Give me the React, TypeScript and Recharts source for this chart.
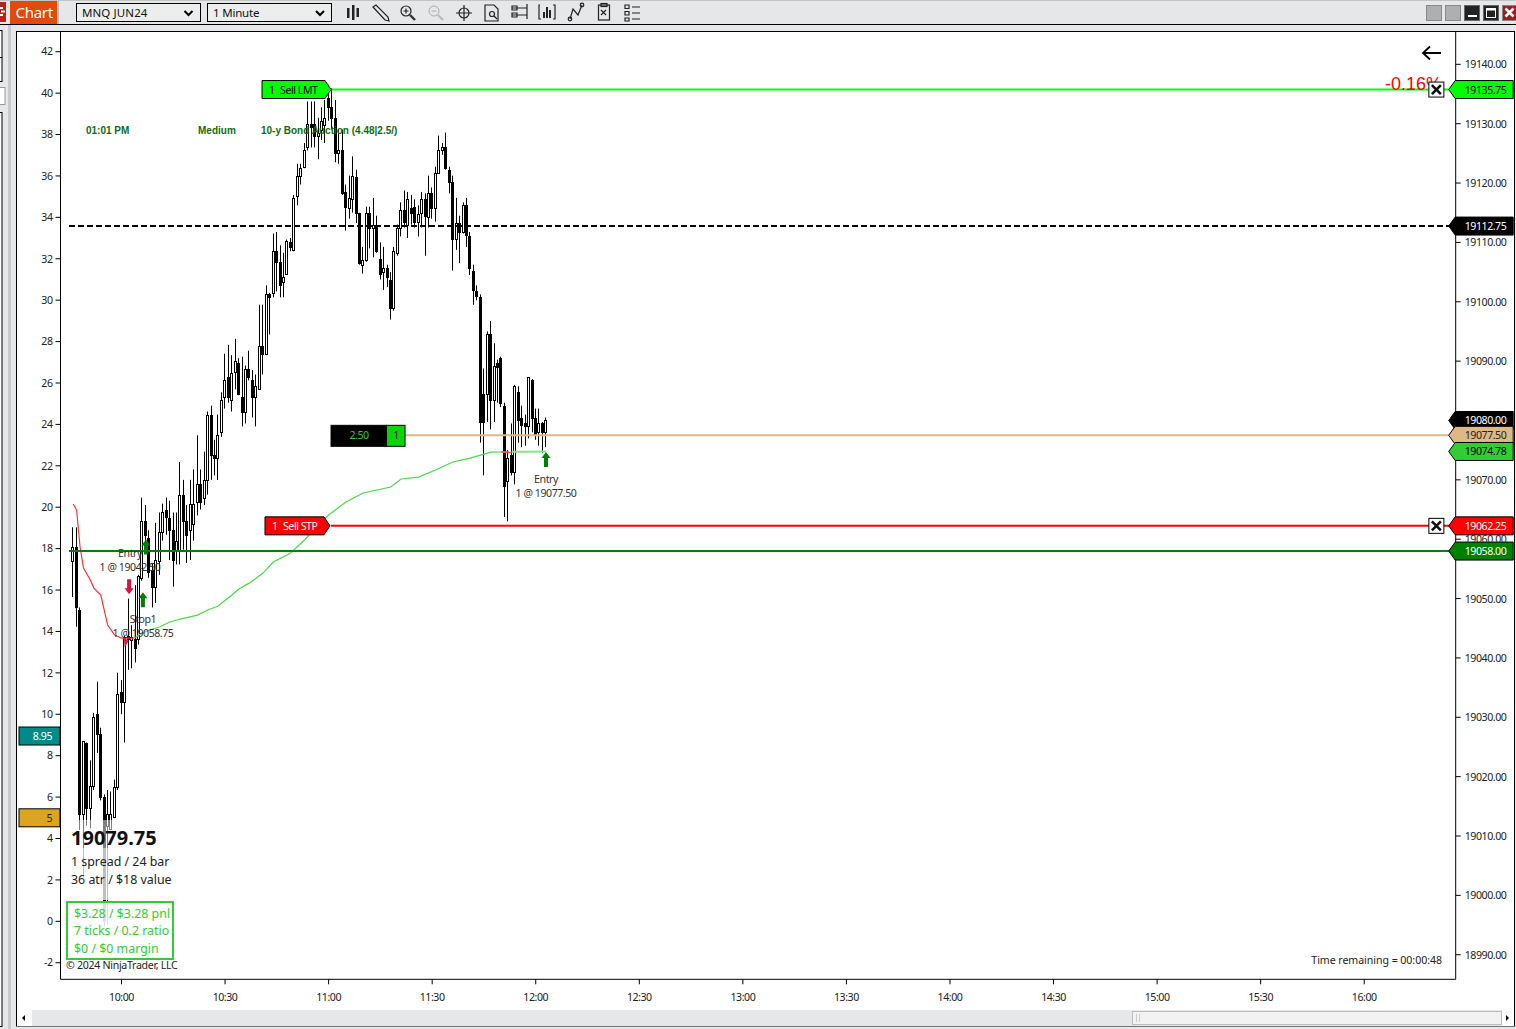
import React from "react";
import { ComposedChart, Bar, Line, XAxis, YAxis, ReferenceLine, ReferenceDot } from "recharts";

// ---- session layout (minutes after midnight) ----
const firstBarMinute = 586;
const timeDomain = [582.33, 986.5];
const timeTicks = [600, 630, 660, 690, 720, 750, 780, 810, 840, 870, 900, 930, 960];
const timeLabels = ["10:00", "10:30", "11:00", "11:30", "12:00", "12:30", "13:00", "13:30", "14:00", "14:30", "15:00", "15:30", "16:00"];

const priceDomain = [18985.86, 19145.53];
const priceTicks = [18990, 19000, 19010, 19020, 19030, 19040, 19050, 19060, 19070, 19080, 19090, 19100, 19110, 19120, 19130, 19140];
const indicatorDomain = [-2.8, 42.976];
const indicatorTicks = [-2, 0, 2, 4, 6, 8, 10, 12, 14, 16, 18, 20, 22, 24, 26, 28, 30, 32, 34, 36, 38, 40, 42];

// ---- 1 minute candles ----
const opens = [
  19056.25, 19058.75, 19048, 19013.75, 19025.75, 19014.75, 19018.5, 19030.5, 19027.25, 19016.5,
  19011.75, 19011.25, 19013.25, 19018.25, 19034.25, 19032.5, 19043.75, 19043, 19043.25, 19043.25,
  19053.5, 19063, 19060.25, 19054.75, 19052, 19056.25, 19061.25, 19065, 19063.5, 19061.5,
  19058.25, 19058.25, 19067.5, 19063, 19061.5, 19062.5, 19066.25, 19069.25, 19067, 19070,
  19081, 19074.25, 19073.75, 19078, 19084, 19087.25, 19083.5, 19088.25, 19089.75, 19084,
  19081.5, 19088.75, 19086.75, 19084, 19085.25, 19092.5, 19091.25, 19101.25, 19101.5, 19108.5,
  19106.75, 19103.25, 19104.75, 19110, 19108.75, 19117.75, 19121.25, 19122.75, 19126, 19130,
  19130, 19128, 19129, 19129.75, 19134.25, 19132.75, 19131, 19125, 19125.5, 19118.5,
  19115.75, 19117.25, 19121, 19115, 19106.25, 19107, 19115, 19112.5, 19113, 19107.25,
  19105, 19105.75, 19103.75, 19099, 19108.25, 19112.5, 19115.5, 19113, 19115.75, 19116,
  19113.5, 19115, 19117.25, 19114.25, 19118.25, 19115.75, 19121.75, 19125.5, 19126, 19122.25,
  19120.25, 19110.5, 19113.25, 19111.75, 19116.25, 19111, 19105.25, 19101.75, 19100.75, 19084.5,
  19084.5, 19094.5, 19083.5, 19089.75, 19090.5, 19082.5, 19069.75, 19074.25, 19071.25, 19084.75,
  19080.5, 19079.5, 19079, 19086.75, 19080.5, 19078, 19079.5, 19078,
];
const highs = [
  19062, 19062, 19048.5, 19026, 19025.75, 19022.75, 19030.75, 19036, 19028.25, 19017,
  19017.75, 19017.5, 19019.5, 19037.5, 19036.25, 19043.75, 19050, 19045.5, 19052.25, 19054,
  19067, 19065.75, 19061.5, 19056, 19062.75, 19064.5, 19066, 19067, 19066.5, 19064.5,
  19064.5, 19073, 19070, 19065.75, 19070, 19071.75, 19077.5, 19071.75, 19074.75, 19081.5,
  19082.5, 19076.75, 19081, 19084.75, 19091.25, 19092.75, 19091, 19093.75, 19090.5, 19090.75,
  19089.25, 19091.75, 19088.5, 19087.75, 19099.5, 19099.5, 19102.75, 19101.5, 19111.5, 19111.75,
  19109.5, 19108.25, 19110.5, 19110.75, 19118, 19123.25, 19123.25, 19126.75, 19133.75, 19133.75,
  19133.75, 19131, 19132.75, 19134, 19136.5, 19136, 19134, 19129, 19129, 19119.75,
  19121.25, 19124.5, 19122.25, 19115, 19109.25, 19116, 19116, 19117.5, 19114.5, 19110,
  19109.25, 19106.25, 19105, 19109.25, 19113, 19116.75, 19118.75, 19118.5, 19118, 19117.25,
  19116.25, 19118.5, 19118.25, 19121.25, 19119.25, 19122.75, 19128, 19126.75, 19128.5, 19122.75,
  19121.25, 19117.5, 19114.5, 19116.75, 19117.5, 19111.75, 19106.25, 19102.75, 19101.25, 19088.75,
  19095, 19096.75, 19093, 19090.25, 19090.75, 19083, 19075, 19079.5, 19086, 19085.75,
  19082.5, 19081, 19087.25, 19087, 19082, 19082, 19079.75, 19080.5,
];
const lows = [
  19050.25, 19045.25, 19011, 19003, 19011.75, 19011.25, 19017.75, 19024, 19016, 18994.75,
  18995, 19011, 19013, 19017.75, 19030.5, 19025.75, 19038, 19038.25, 19039.25, 19042.25,
  19053, 19059, 19053.5, 19048.5, 19049.25, 19054, 19059.75, 19060.75, 19056.5, 19052,
  19055.75, 19055.75, 19058.25, 19056, 19056.5, 19059.75, 19064, 19065, 19065.75, 19067.5,
  19070, 19070.75, 19070, 19077.25, 19082, 19083, 19081.5, 19085.25, 19084.25, 19079,
  19079.5, 19086.75, 19080.5, 19079, 19085.25, 19087.75, 19091, 19094.5, 19100.75, 19101.75,
  19100.75, 19100.75, 19104.5, 19108.5, 19108.5, 19116.25, 19119.75, 19122.5, 19125.5, 19126,
  19126, 19124, 19127.25, 19126.75, 19130.5, 19129, 19123.5, 19123.25, 19118, 19112,
  19114, 19115, 19113.25, 19106.25, 19104.75, 19106.75, 19109, 19107.5, 19108.25, 19103.75,
  19102, 19102.5, 19097, 19098.5, 19107.75, 19111, 19112.5, 19110.75, 19113, 19112.5,
  19111, 19112.5, 19107.75, 19112.5, 19114, 19113.5, 19121.75, 19124.75, 19122.25, 19118.25,
  19105.25, 19108.75, 19106.5, 19111.5, 19109.25, 19104.5, 19099.5, 19100.25, 19076.25, 19070.75,
  19079.75, 19078.5, 19079.75, 19083, 19082.25, 19063.75, 19063, 19070.75, 19069.25, 19076.25,
  19075.5, 19075.75, 19077, 19078, 19076.75, 19075.75, 19074.5, 19075.5,
];
const closes = [
  19058.75, 19048.5, 19013.75, 19026, 19014.75, 19018.5, 19030, 19027.25, 19016.5, 18995.75,
  19013.75, 19013.75, 19018.25, 19034, 19032.5, 19043.5, 19043.25, 19043.5, 19041.75, 19053.75,
  19063, 19060.75, 19054.5, 19052, 19056.5, 19061.25, 19064.5, 19063.75, 19061.5, 19056.5,
  19059.75, 19067.5, 19063, 19060.75, 19066, 19066, 19069.25, 19066.25, 19070, 19081,
  19074.25, 19073.75, 19077.5, 19083.5, 19086.75, 19084, 19088, 19090, 19084.5, 19081.5,
  19088.75, 19087.25, 19084, 19085.75, 19092.5, 19091.25, 19101.25, 19100.75, 19108.5, 19106.75,
  19102.75, 19104.25, 19110.25, 19109.25, 19117.5, 19121.25, 19122.5, 19125.5, 19130, 19129.5,
  19128, 19128.5, 19130.5, 19131, 19132.75, 19131, 19125, 19125.5, 19118.25, 19116,
  19117.5, 19121.25, 19115, 19106.5, 19107, 19115, 19112.5, 19113, 19108.5, 19104.75,
  19105.75, 19104.25, 19099, 19108.5, 19112.5, 19115.5, 19113.5, 19117.25, 19115, 19113.5,
  19114.75, 19117.25, 19114.5, 19118.25, 19115.75, 19121.75, 19125.5, 19126, 19122.5, 19120.25,
  19110.5, 19113.25, 19111.75, 19116.25, 19111.25, 19105.75, 19102, 19101, 19079.75, 19079.75,
  19094.5, 19083.5, 19089.25, 19089, 19083, 19069, 19073.75, 19071.25, 19085.75, 19080,
  19079.25, 19079, 19087.25, 19080.5, 19077.5, 19079.5, 19078, 19080,
];

// ---- VWAP-style line, read at these bar numbers ----
const redLineBars = [0, 1, 2, 3, 5, 6, 8, 9, 10, 12, 14, 17, 18, 124, 127];
const redLineValues = [19065.93, 19064.91, 19058.68, 19055.14, 19053.1, 19051.77, 19050.6, 19048.07, 19045.54, 19043.86, 19043.35, 19043.35, 19043.4, 19074.69, 19074.65];
const redLineBreakAfter = 18;
const greenLineBars = [18, 19, 22, 25, 28, 31, 36, 39, 42, 43, 46, 48, 51, 55, 58, 63, 67, 71, 74, 79, 84, 92, 95, 100, 105, 110, 115, 121, 124];
const greenLineValues = [19043.4, 19043.86, 19044.7, 19045.2, 19046.05, 19046.55, 19047.22, 19048.07, 19048.74, 19049.25, 19050.6, 19051.6, 19052.6, 19054.3, 19056.15, 19057.67, 19059.86, 19062.39, 19064.07, 19066.26, 19067.78, 19068.79, 19070.14, 19070.47, 19071.65, 19073, 19073.67, 19074.68, 19074.69];
const greenTailBars = [127, 130, 137];
const greenTailValues = [19074.72, 19074.75, 19074.78];

// ---- price levels ----
const sellLimitPrice = 19135.75;
const sellStopPrice = 19062.25;
const positionPrice = 19077.5;
const targetPrice = 19058;
const dashedPrice = 19112.75;
const flagPrices = [19135.75, 19112.75, 19080, 19077.5, 19074.78, 19062.25, 19058];
const flagFills = ["#00ff00", "#000000", "#000000", "#deb887", "#32cd32", "#ff0000", "#008000"];
const flagInks = ["#000000", "#ffffff", "#ffffff", "#222222", "#000000", "#ffffff", "#ffffff"];
const indicatorFlagValues = [8.95, 5];
const indicatorFlagLabels = ["8.95", "5"];
const indicatorFlagFills = ["#008b8b", "#daa520"];
const indicatorFlagInks = ["#ffffff", "#222222"];

// ---- executions ----
const arrowTimes = [602.2, 606.2, 607.1, 722.97];
const arrowPrices = [19052, 19049.8, 19058.68, 19073.42];
const arrowDirections = ["down", "up", "up", "up"];

const rows = opens.map((open, i) => {
  const redIdx = redLineBars.indexOf(i);
  const greenIdx = greenLineBars.indexOf(i);
  const tailIdx = greenTailBars.indexOf(i);
  return {
    t: firstBarMinute + i,
    open,
    high: highs[i],
    low: lows[i],
    close: closes[i],
    redA: redIdx >= 0 && i <= redLineBreakAfter ? redLineValues[redIdx] : null,
    redB: redIdx >= 0 && i > redLineBreakAfter ? redLineValues[redIdx] : null,
    green: greenIdx >= 0 ? greenLineValues[greenIdx] : null,
    greenTail: tailIdx >= 0 ? greenTailValues[tailIdx] : null,
  };
});

const UI = "'Noto Sans', sans-serif";
const LABEL = { fontFamily: UI, fontSize: 10.6, letterSpacing: -0.45 };

const Candle = (props: any) => {
  const { x, y, width, height, payload } = props;
  const top = height >= 0 ? y : y + height;
  const h = Math.abs(height);
  const k = h / (payload.high - payload.low);
  const cx = Math.round(x + width / 2 - 0.5) + 0.5;
  const up = payload.close >= payload.open;
  const bTop = Math.round(top + (payload.high - Math.max(payload.open, payload.close)) * k) + 0.5;
  const bBot = Math.round(top + (payload.high - Math.min(payload.open, payload.close)) * k) + 0.5;
  return (
    <g>
      <line x1={cx} x2={cx} y1={top} y2={top + h} stroke="#000" strokeWidth={1} />
      <rect x={cx - 1} y={bTop} width={2} height={Math.max(bBot - bTop, 1)} fill={up ? "#fff" : "#000"} stroke="#000" strokeWidth={1} />
    </g>
  );
};

const makePriceFlag = (fill: string, ink: string, label: string) => (p: any) => {
  const { cx, cy } = p;
  return (
    <g>
      <polygon points={`${cx - 7},${cy} ${cx - 0.5},${cy - 9} ${cx + 57.5},${cy - 9} ${cx + 57.5},${cy + 9} ${cx - 0.5},${cy + 9}`} fill={fill} stroke="#000" strokeWidth={1} />
      <text x={cx + 9} y={cy + 4} {...LABEL} fill={ink}>{label}</text>
    </g>
  );
};

const makeIndicatorFlag = (fill: string, ink: string, label: string) => (p: any) => {
  const { cx, cy } = p;
  return (
    <g>
      <rect x={cx - 41.5} y={cy - 9} width={41} height={18} fill={fill} stroke="#000" strokeWidth={1} />
      <text x={cx - 8.5} y={cy + 4} textAnchor="end" {...LABEL} fill={ink}>{label}</text>
    </g>
  );
};

const makeOrderTag = (fill: string, ink: string, qty: string, name: string, w: number, nameAt: number) => (p: any) => {
  const { cx, cy } = p;
  return (
    <g>
      <polygon points={`${cx - w},${cy - 9} ${cx - 6},${cy - 9} ${cx},${cy} ${cx - 6},${cy + 9} ${cx - w},${cy + 9}`} fill={fill} stroke="#000" strokeWidth={1} />
      <text x={cx - w + 7} y={cy + 4} {...LABEL} fill={ink}>{qty}</text>
      <text x={cx - w + nameAt} y={cy + 4} {...LABEL} fill={ink}>{name}</text>
    </g>
  );
};

const PositionBox = (p: any) => {
  const { cx, cy } = p;
  return (
    <g>
      <rect x={cx} y={cy - 10} width={55.5} height={21} fill="#000" stroke="#000" />
      <rect x={cx + 55.5} y={cy - 10} width={18.5} height={21} fill="#0ad40a" stroke="#000" />
      <text x={cx + 28} y={cy + 4} textAnchor="middle" {...LABEL} fill="#32cd32">2.50</text>
      <text x={cx + 65} y={cy + 4} textAnchor="middle" {...LABEL} fill="#111">1</text>
    </g>
  );
};

const CloseBox = (p: any) => {
  const { cx, cy } = p;
  return (
    <g>
      <rect x={cx - 7.5} y={cy - 7.5} width={15} height={15} fill="#fff" stroke="#000" strokeWidth={1} />
      <path d={`M${cx - 4.5},${cy - 4.5} L${cx + 4.5},${cy + 4.5} M${cx + 4.5},${cy - 4.5} L${cx - 4.5},${cy + 4.5}`} stroke="#111" strokeWidth={2.6} />
    </g>
  );
};

const PctText = (p: any) => (
  <text x={p.cx} y={p.cy + 0.5} fontFamily="'Liberation Sans', sans-serif" fontSize={18} fill="#ff0000">-0.16%</text>
);

const makeArrow = (dir: string) => (p: any) => {
  const { cx, cy } = p;
  const color = dir === "up" ? "#008000" : "#dc143c";
  const s = dir === "up" ? 1 : -1;
  const a = cy - 7.5 * s;
  const b = cy - 1.5 * s;
  const c = cy + 7.5 * s;
  return <polygon points={`${cx},${a} ${cx + 4.5},${b} ${cx + 2},${b} ${cx + 2},${c} ${cx - 2},${c} ${cx - 2},${b} ${cx - 4.5},${b}`} fill={color} />;
};

const RedMark = (p: any) => <polygon points={`${p.cx - 2},${p.cy - 5} ${p.cx + 3},${p.cy - 1} ${p.cx - 1},${p.cy + 5}`} fill="#dc143c" />;

const axisTick = { ...LABEL, fill: "#222" };

// Right-hand labels sit under the flags: the one at 19080 is covered and the one at 19060 is cut by the flag below it.
const PriceTick = (p: any) => {
  const v = p.payload.value;
  if (v === 19080) return <g />;
  return (
    <svg x={p.x} y={p.y - 8} width={50} height={v === 19060 ? 10.5 : 18}>
      <text x={0} y={12} {...axisTick}>{v.toFixed(2)}</text>
    </svg>
  );
};

const Toolbar = () => {
  const ic = { fill: "none", stroke: "#222", strokeWidth: 1.2 };
  return (
    <svg width={1516} height={26} style={{ position: "absolute", left: 0, top: 0 }}>
      <rect x={0} y={0} width={1516} height={1} fill="#c4c4c4" />
      <rect x={0} y={24} width={1516} height={1} fill="#000" />
      <rect x={0} y={2} width={6} height={20} fill="#b3261e" />
      <path d="M0,8h3M0,15h3M1,11.5h4" stroke="#fff" strokeWidth={2} />
      <rect x={10} y={1} width={47} height={23} fill="#e04a0a" />
      <rect x={57} y={1} width={2} height={23} fill="#bbb" />
      <text x={15.5} y={18} fontFamily={UI} fontSize={15} letterSpacing={-0.3} fill="#fff">Chart</text>
      <rect x={76.5} y={3.5} width={124} height={18} fill="#eceded" stroke="#000" />
      <text x={82} y={17} fontFamily={UI} fontSize={11.5} letterSpacing={0.1} fill="#111">MNQ JUN24</text>
      <path d="M147.5,11l4,4l4,-4" transform="translate(37,0)" fill="none" stroke="#000" strokeWidth={2} />
      <rect x={207.5} y={3.5} width={124} height={18} fill="#eceded" stroke="#000" />
      <text x={213} y={17} fontFamily={UI} fontSize={11.5} letterSpacing={-0.2} fill="#111">1 Minute</text>
      <path d="M250,11l4,4l4,-4" transform="translate(66,0)" fill="none" stroke="#000" strokeWidth={2} />
      <g fill="#222">
        <rect x={347} y={8} width={2.5} height={10} /><rect x={352} y={5} width={2.5} height={15} /><rect x={356.5} y={8} width={2.5} height={9} />
      </g>
      <path d="M373,7l3,-2l12,12l1,4l-4,-1z" {...ic} />
      <circle cx={406} cy={11} r={5} {...ic} /><path d="M403.5,11h5M406,8.5v5" {...ic} /><path d="M410,15l5,5" stroke="#333" strokeWidth={2.4} />
      <circle cx={434} cy={11} r={5} fill="none" stroke="#aaa" /><path d="M431.5,11h5" stroke="#aaa" /><path d="M438,15l5,5" stroke="#bbb" strokeWidth={2.4} />
      <circle cx={464} cy={13} r={5} {...ic} /><path d="M464,5v16M456,13h16" {...ic} />
      <path d="M485,5h9l4,4v12h-13z" {...ic} /><circle cx={492} cy={14} r={2.5} {...ic} /><path d="M494,16l3,3" {...ic} />
      <path d="M512,6h5v4h-5zM512,13h5v4h-5zM512,8h15M512,15h15M527,4v15" {...ic} />
      <path d="M540,5h-1v14h2M553,5h2v14h-2" {...ic} /><path d="M544,18v-6M547,18v-11M550,18v-8" stroke="#222" strokeWidth={2} />
      <path d="M570,19l3,-10l5,6l4,-10" {...ic} /><circle cx={570} cy={19} r={1.8} {...ic} /><circle cx={582} cy={5} r={1.8} {...ic} />
      <rect x={598.5} y={5} width={11} height={15} {...ic} /><rect x={601} y={3.5} width={6} height={3} {...ic} /><path d="M601,10l5,5M606,10l-5,5" {...ic} />
      <path d="M625,5h4v3.5h-4zM625,11.5h4v3.5h-4zM625,18h4v3h-4zM632,7h8M632,13h8M632,19h8" {...ic} />
      <rect x={1426.5} y={5.5} width={15} height={15} fill="#b0afaf" stroke="#888" />
      <rect x={1445.5} y={5.5} width={15} height={15} fill="#b0afaf" stroke="#888" />
      <rect x={1464.5} y={5.5} width={15} height={15} fill="#222" stroke="#666" />
      <rect x={1468} y={15} width={9} height={2} fill="#fff" />
      <rect x={1483.5} y={5.5} width={15} height={15} fill="#222" stroke="#666" />
      <rect x={1486.5} y={8.5} width={9} height={9} fill="none" stroke="#fff" />
      <rect x={1486.5} y={8.5} width={9} height={2} fill="#fff" />
      <rect x={1502.5} y={5.5} width={14} height={15} fill="#a01c1c" stroke="#888" />
      <path d="M1505.5,8.5l8,8M1513.5,8.5l-8,8" stroke="#fff" strokeWidth={2.6} />
    </svg>
  );
};

const Notes = () => {
  const small = { ...LABEL, fill: "#333" };
  const news = { fontFamily: "'Liberation Sans', sans-serif", fontSize: 10, fontWeight: 700, fill: "#126b12" };
  const stat = { fontFamily: UI, fontSize: 12.4, fill: "#222" };
  const pnl = { fontFamily: UI, fontSize: 12.4, fill: "#32cd32" };
  return (
    <svg width={1516} height={1029} style={{ position: "absolute", left: 0, top: 0, pointerEvents: "none" }}>
      <path d="M1441,53h-17M1430,46.5l-7,6.5l7,6.5" fill="none" stroke="#000" strokeWidth={1.8} />
      <text x={86} y={134} {...news}>01:01 PM</text>
      <text x={198} y={134} {...news}>Medium</text>
      <text x={261} y={134} {...news}>10-y Bond Auction (4.48|2.5/)</text>
      <text x={130} y={557} textAnchor="middle" {...small}>Entry</text>
      <text x={130} y={571} textAnchor="middle" {...small}>1 @ 19042.50</text>
      <text x={143} y={623} textAnchor="middle" {...small}>Stop1</text>
      <text x={143} y={637} textAnchor="middle" {...small}>1 @ 19058.75</text>
      <text x={546} y={483} textAnchor="middle" {...small}>Entry</text>
      <text x={546} y={497} textAnchor="middle" {...small}>1 @ 19077.50</text>
      <text x={1442} y={964} textAnchor="end" fontFamily={UI} fontSize={10.6} letterSpacing={-0.05} fill="#222">Time remaining = 00:00:48</text>
      <rect x={66} y={820} width={96} height={28} fill="#fff" fillOpacity={0.5} />
      <rect x={66} y={848} width={109} height={52} fill="#fff" fillOpacity={0.75} />
      <rect x={67} y={902} width={106} height={57} fill="#fff" fillOpacity={0.88} stroke="#32cd32" strokeWidth={2} />
      <text x={71} y={845} fontFamily={UI} fontSize={20} fontWeight={700} fill="#111">19079.75</text>
      <text x={71} y={866} {...stat}>1 spread / 24 bar</text>
      <text x={71} y={884} {...stat}>36 atr / $18 value</text>
      <text x={74} y={918} {...pnl}>$3.28 / $3.28 pnl</text>
      <text x={74} y={935} {...pnl}>7 ticks / 0.2 ratio</text>
      <text x={74} y={953} {...pnl}>$0 / $0 margin</text>
      <text x={66} y={969} fontFamily={UI} fontSize={10.6} letterSpacing={-0.3} fill="#222">© 2024 NinjaTrader, LLC</text>
    </svg>
  );
};

const Frame = () => (
  <svg width={1516} height={1029} style={{ position: "absolute", left: 0, top: 0 }}>
    <rect x={8} y={25} width={3} height={1004} fill="#c8c9ca" />
    <rect x={-1} y={30.5} width={3} height={27} fill="#fff" stroke="#000" />
    <rect x={-1} y={57.5} width={3} height={24} fill="#fff" stroke="#000" />
    <rect x={-1} y={87.5} width={6} height={17} fill="#fff" stroke="#999" />
    <rect x={-1} y={112.5} width={3} height={914} fill="#fff" stroke="#000" />
    <rect x={16.5} y={31.5} width={1498} height={994.5} fill="#fff" stroke="#000" />
    <rect x={17} y={1010} width={1497} height={16} fill="#e6e7e8" />
    <rect x={17} y={1010} width={15} height={16} fill="#fff" />
    <path d="M25,1015v6l-3,-3z" fill="#000" />
    <rect x={1132.5} y={1011.5} width={369} height={13} fill="#f2f2f2" stroke="#bbb" />
    <path d="M1136.5,1014v8M1139.5,1014v8" stroke="#ccc" />
    <rect x={1502} y={1010} width={12} height={16} fill="#fff" />
    <path d="M1506,1015v6l3,-3z" fill="#000" />
  </svg>
);

export default function App() {
  return (
    <div style={{ position: "absolute", left: 0, top: 0, width: 1516, height: 1029, background: "#e6e7e8", overflow: "hidden" }}>
      <Frame />
      <Toolbar />
      <div style={{ position: "absolute", left: 0, top: 0 }}>
        <ComposedChart width={1516} height={1029} data={rows} margin={{ top: 31.5, right: 0, bottom: 0, left: 0 }} barCategoryGap={0}>
          <XAxis
            dataKey="t"
            type="number"
            domain={timeDomain}
            ticks={timeTicks}
            allowDataOverflow
            interval={0}
            height={49.7}
            tickSize={5}
            tickMargin={9}
            tick={axisTick}
            axisLine={{ stroke: "#000" }}
            tickLine={{ stroke: "#000" }}
            tickFormatter={(v: number) => timeLabels[timeTicks.indexOf(v)]}
          />
          <YAxis
            yAxisId="ind"
            orientation="left"
            type="number"
            domain={indicatorDomain}
            ticks={indicatorTicks}
            allowDataOverflow
            interval={0}
            width={60.5}
            tickSize={5}
            tickMargin={3}
            tick={axisTick}
            axisLine={{ stroke: "#000" }}
            tickLine={{ stroke: "#000" }}
          />
          <YAxis
            yAxisId="px"
            orientation="right"
            type="number"
            domain={priceDomain}
            ticks={priceTicks}
            allowDataOverflow
            interval={0}
            width={60.3}
            tickSize={5}
            tickMargin={4}
            tick={PriceTick}
            axisLine={{ stroke: "#000" }}
            tickLine={{ stroke: "#000" }}
          />
          <ReferenceDot yAxisId="px" x={966} y={sellLimitPrice} r={0} shape={PctText} ifOverflow="visible" />
          <Line yAxisId="px" dataKey="redA" stroke="#ff3030" strokeWidth={1.2} dot={false} connectNulls isAnimationActive={false} />
          <Line yAxisId="px" dataKey="green" stroke="#4ad84a" strokeWidth={1.2} dot={false} connectNulls isAnimationActive={false} />
          <Line yAxisId="px" dataKey="greenTail" stroke="#86e486" strokeWidth={2} dot={false} connectNulls isAnimationActive={false} />
          <Line yAxisId="px" dataKey="redB" stroke="#ff5050" strokeWidth={2} dot={false} connectNulls isAnimationActive={false} />
          <Bar yAxisId="px" dataKey={(d: any) => [d.low, d.high]} barSize={3} shape={Candle} isAnimationActive={false} />
          <ReferenceLine yAxisId="px" segment={[{ x: 660.7, y: sellLimitPrice }, { x: 984.8, y: sellLimitPrice }]} stroke="#00ff00" strokeWidth={2} />
          <ReferenceLine yAxisId="px" segment={[{ x: 584.8, y: dashedPrice }, { x: 984.8, y: dashedPrice }]} stroke="#000" strokeWidth={2} strokeDasharray="6 3" />
          <ReferenceLine yAxisId="px" segment={[{ x: 682.1, y: positionPrice }, { x: 984.8, y: positionPrice }]} stroke="#deb887" strokeWidth={2} />
          <ReferenceLine yAxisId="px" segment={[{ x: 660.7, y: sellStopPrice }, { x: 984.8, y: sellStopPrice }]} stroke="#ff0000" strokeWidth={2} />
          <ReferenceLine yAxisId="px" segment={[{ x: 584.8, y: targetPrice }, { x: 984.8, y: targetPrice }]} stroke="#008000" strokeWidth={2} />
          {arrowTimes.map((t, i) => (
            <ReferenceDot key={`arrow${i}`} yAxisId="px" x={t} y={arrowPrices[i]} r={0} shape={makeArrow(arrowDirections[i])} ifOverflow="visible" />
          ))}
          <ReferenceDot yAxisId="px" x={601.2} y={19042.7} r={0} shape={RedMark} ifOverflow="visible" />
          <ReferenceDot yAxisId="px" x={660.7} y={sellLimitPrice} r={0} shape={makeOrderTag("#00ff00", "#000", "1", "Sell LMT", 69, 18)} ifOverflow="visible" />
          <ReferenceDot yAxisId="px" x={660.4} y={sellStopPrice} r={0} shape={makeOrderTag("#ff0000", "#fff", "1", "Sell STP", 65, 18)} ifOverflow="visible" />
          <ReferenceDot yAxisId="px" x={660.7} y={positionPrice} r={0} shape={PositionBox} ifOverflow="visible" />
          <ReferenceDot yAxisId="px" x={980.9} y={sellLimitPrice} r={0} shape={CloseBox} ifOverflow="visible" />
          <ReferenceDot yAxisId="px" x={980.9} y={sellStopPrice} r={0} shape={CloseBox} ifOverflow="visible" />
          {flagPrices.map((p, i) => (
            <ReferenceDot key={`flag${i}`} yAxisId="px" x={timeDomain[1]} y={p} r={0} shape={makePriceFlag(flagFills[i], flagInks[i], p.toFixed(2))} ifOverflow="visible" />
          ))}
          {indicatorFlagValues.map((v, i) => (
            <ReferenceDot key={`ind${i}`} yAxisId="ind" x={timeDomain[0]} y={v} r={0} shape={makeIndicatorFlag(indicatorFlagFills[i], indicatorFlagInks[i], indicatorFlagLabels[i])} ifOverflow="visible" />
          ))}
        </ComposedChart>
      </div>
      <Notes />
    </div>
  );
}
